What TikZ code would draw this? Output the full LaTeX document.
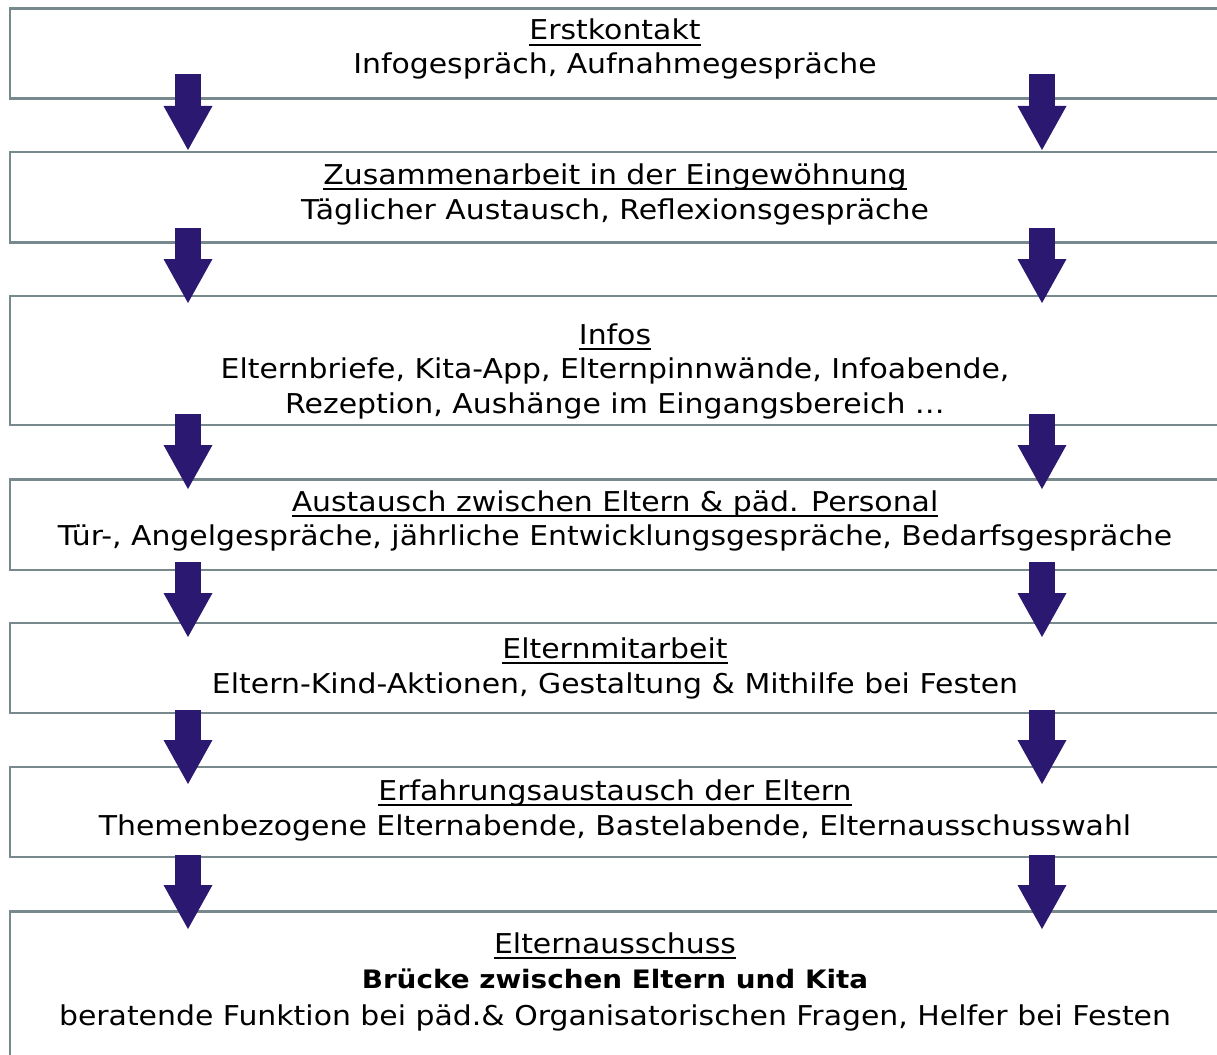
\documentclass[tikz,border=0pt]{standalone}
\usepackage{fontspec}
\setmainfont[FakeStretch=1.095]{DejaVu Sans}
\usetikzlibrary{arrows.meta}
\definecolor{boxgray}{RGB}{120,137,141}
\definecolor{arrowblue}{RGB}{43,24,112}
\newsavebox\ulbox
\newcommand\myul[1]{\sbox\ulbox{#1}\rlap{\rule[-6pt]{\wd\ulbox}{2pt}}\usebox\ulbox}
\begin{document}
\begin{tikzpicture}[x=1pt,y=-1pt,
  box/.style={draw=boxgray, line width=2.8pt, anchor=north west, outer sep=0pt, inner sep=0pt, minimum width=1260pt},
  txt/.style={anchor=base, inner sep=0pt, font=\fontsize{27.3}{34}\selectfont},
  btxt/.style={txt, font=\fontsize{25.4}{34}\selectfont\bfseries},
  bigarrow/.style={draw=arrowblue, line width=26pt, -{Triangle[width=49pt,length=44pt,line width=0pt]}}]
\useasboundingbox (0,0) rectangle (1217,1054);
\clip (0,0) rectangle (1217,1054);
% boxes
\node[box, minimum height=89.6pt] (b1) at (10,8.7) {};
\node[box, minimum height=90.7pt] (b2) at (10,152) {};
\node[box, minimum height=129pt] (b3) at (10,296) {};
\node[box, minimum height=90.7pt] (b4) at (10,479.3) {};
\node[box, minimum height=90pt] (b5) at (10,623) {};
\node[box, minimum height=90pt] (b6) at (10,767) {};
\node[box, minimum height=200pt] (b7) at (10,911.7) {};
% texts
\node[txt] (t11) at (615,40) {\myul{Erstkontakt}};
\node[txt] (t12) at (615,74) {Infogespräch, Aufnahmegespräche};
\node[txt] (t21) at (615,184) {\myul{Zusammenarbeit in der Eingewöhnung}};
\node[txt] (t22) at (615,219) {Täglicher Austausch, Reflexionsgespräche};
\node[txt] (t31) at (615,344) {\myul{Infos}};
\node[txt] (t32) at (615,378) {Elternbriefe, Kita-App, Elternpinnwände, Infoabende,};
\node[txt] (t33) at (615,413) {Rezeption, Aushänge im Eingangsbereich …};
\node[txt] (t41) at (615,511) {\myul{Austausch zwischen Eltern \& päd. Personal}};
\node[txt] (t42) at (615,545) {Tür-, Angelgespräche, jährliche Entwicklungsgespräche, Bedarfsgespräche};
\node[txt] (t51) at (615,658) {\myul{Elternmitarbeit}};
\node[txt] (t52) at (615,693) {Eltern-Kind-Aktionen, Gestaltung \& Mithilfe bei Festen};
\node[txt] (t61) at (615,800) {\myul{Erfahrungsaustausch der Eltern}};
\node[txt] (t62) at (615,835) {Themenbezogene Elternabende, Bastelabende, Elternausschusswahl};
\node[txt] (t71) at (615,953) {\myul{Elternausschuss}};
\node[btxt] (t72) at (615,988) {Brücke zwischen Eltern und Kita};
\node[txt] (t73) at (615,1025) {beratende Funktion bei päd.\& Organisatorischen Fragen, Helfer bei Festen};
% arrow end points
\coordinate (l1s) at (188,74);  \coordinate (l1e) at (188,150);
\coordinate (r1s) at (1042,74); \coordinate (r1e) at (1042,150);
\coordinate (l2s) at (188,228);  \coordinate (l2e) at (188,303);
\coordinate (r2s) at (1042,228); \coordinate (r2e) at (1042,303);
\coordinate (l3s) at (188,414);  \coordinate (l3e) at (188,489);
\coordinate (r3s) at (1042,414); \coordinate (r3e) at (1042,489);
\coordinate (l4s) at (188,562);  \coordinate (l4e) at (188,637);
\coordinate (r4s) at (1042,562); \coordinate (r4e) at (1042,637);
\coordinate (l5s) at (188,710);  \coordinate (l5e) at (188,784);
\coordinate (r5s) at (1042,710); \coordinate (r5e) at (1042,784);
\coordinate (l6s) at (188,855);  \coordinate (l6e) at (188,929);
\coordinate (r6s) at (1042,855); \coordinate (r6e) at (1042,929);
% arrows
\foreach \i in {1,...,6}{
  \draw[bigarrow] (l\i s) -- (l\i e);
  \draw[bigarrow] (r\i s) -- (r\i e);
}
\end{tikzpicture}
\end{document}
